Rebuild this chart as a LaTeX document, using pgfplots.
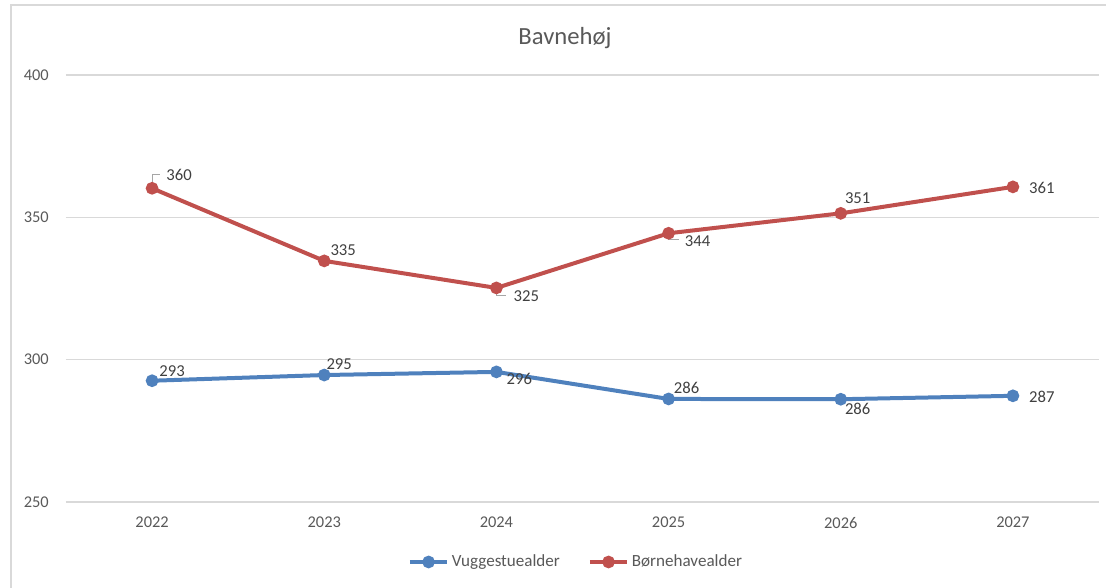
\documentclass[border=0pt]{standalone}
\usepackage{pgfplots}
\pgfplotsset{compat=1.18}
\usepackage{fontspec}
\setmainfont{Carlito}
\definecolor{txt}{HTML}{595959}
\definecolor{lbltxt}{HTML}{404040}
\definecolor{gridc}{HTML}{D9D9D9}
\definecolor{bl}{HTML}{4F81BD}
\definecolor{rd}{HTML}{C0504D}
\definecolor{lead}{HTML}{A6A6A6}
\tikzset{lbl/.style={anchor=west, inner sep=0pt, text=lbltxt, font=\fontsize{12.5}{15}\selectfont}}
\begin{document}
\begin{tikzpicture}
\path[use as bounding box] (0,0) rectangle (829.5pt,441pt);
\draw[gridc, line width=0.8pt] (8.25pt,0) -- (8.25pt,437.25pt) -- (829.5pt,437.25pt);
\node[txt, font=\fontsize{18.5}{22}\selectfont] at (423.75pt,412.5pt) {Bavnehøj};
\begin{axis}[
  at={(49.5pt,64.5pt)}, anchor=south west,
  scale only axis, width=774.75pt, height=320.25pt,
  xmin=-0.5, xmax=5.5, ymin=250, ymax=400,
  xtick={0,1,2,3,4,5},
  xticklabels={2022,2023,2024,2025,2026,2027},
  ytick={250,300,350,400},
  ymajorgrids, grid style={gridc, line width=0.8pt},
  axis line style={draw=none},
  major tick length=0pt,
  tick label style={txt, font=\fontsize{12.3}{14}\selectfont},
  /pgf/number format/assume math mode=true,
  yticklabel style={anchor=east, inner sep=0pt},
  yticklabel shift=12.75pt,
  xticklabel style={anchor=north, inner sep=0pt},
  xticklabel shift=11pt,
  clip=false,
  legend style={draw=none, at={(0.494,-0.1405)}, anchor=center,
    legend columns=2, font=\fontsize{12.8}{15}\selectfont, text=txt,
    /tikz/every even column/.append style={column sep=19pt},
    inner sep=0pt},
  legend cell align=left,
  legend image code/.code={\draw[mark repeat=2,mark phase=2,#1] plot coordinates {(0pt,0pt) (14pt,0pt) (28pt,0pt)};},
]
\addplot[bl, line width=3pt, mark=*, mark size=3.2pt, mark options={solid}] coordinates {
(0,292.6) (1,294.6) (2,295.7) (3,286.2) (4,286.1) (5,287.3)};
\addlegendentry{Vuggestuealder}
\addplot[rd, line width=3pt, mark=*, mark size=3.2pt, mark options={solid}] coordinates {
(0,360.2) (1,334.7) (2,325.2) (3,344.4) (4,351.4) (5,360.7)};
\addlegendentry{Børnehavealder}
% leader lines
\draw[lead, line width=0.7pt] ([yshift=4pt]axis cs:0,360.2) -- ([yshift=10.5pt]axis cs:0,360.2) -- ([xshift=6pt,yshift=10.5pt]axis cs:0,360.2);
\draw[lead, line width=0.7pt] ([yshift=-3pt]axis cs:2,325.2) -- ([yshift=-5.5pt]axis cs:2,325.2) -- ([xshift=7.5pt,yshift=-5.5pt]axis cs:2,325.2);
\draw[lead, line width=0.7pt] ([yshift=-3pt]axis cs:3,344.4) -- ([yshift=-5pt]axis cs:3,344.4) -- ([xshift=7.5pt,yshift=-5pt]axis cs:3,344.4);
% red labels
\node[lbl, xshift=10.5pt, yshift=9.75pt] at (axis cs:0,360.2) {360};
\node[lbl, xshift=4.5pt, yshift=8.25pt] at (axis cs:1,334.7) {335};
\node[lbl, xshift=12.75pt, yshift=-6pt] at (axis cs:2,325.2) {325};
\node[lbl, xshift=12pt, yshift=-6pt] at (axis cs:3,344.4) {344};
\node[lbl, xshift=3pt, yshift=11.25pt] at (axis cs:4,351.4) {351};
\node[lbl, xshift=12pt, yshift=-0.75pt] at (axis cs:5,360.7) {361};
% blue labels
\node[lbl, xshift=5.25pt, yshift=7.5pt] at (axis cs:0,292.6) {293};
\node[lbl, xshift=1.5pt, yshift=8.25pt] at (axis cs:1,294.6) {295};
\node[lbl, xshift=7.5pt, yshift=-5.25pt] at (axis cs:2,295.7) {296};
\node[lbl, xshift=3.75pt, yshift=8.25pt] at (axis cs:3,286.2) {286};
\node[lbl, xshift=3pt, yshift=-7.5pt] at (axis cs:4,286.1) {286};
\node[lbl, xshift=12pt, yshift=-0.75pt] at (axis cs:5,287.3) {287};
\end{axis}
\end{tikzpicture}
\end{document}
